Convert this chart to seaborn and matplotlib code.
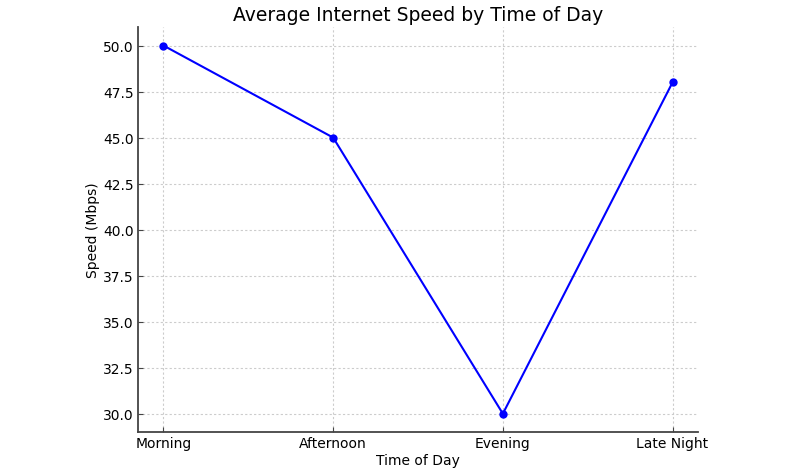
import pandas as pd
import seaborn as sns
import matplotlib.pyplot as plt

times = ['Morning', 'Afternoon', 'Evening', 'Late Night']
speeds = [50, 45, 30, 48]

df = pd.DataFrame({'time': times, 'speed': speeds})

fig = plt.figure(figsize=(7.95, 4.77), dpi=100)
ax = fig.add_axes([0.1736, 0.092, 0.7044, 0.849])
sns.lineplot(x='time', y='speed', data=df, color='blue', marker='o',
             markersize=6, markeredgewidth=0, linewidth=1.5, sort=False, ax=ax)

ax.set_title("Average Internet Speed by Time of Day", fontsize=13.5, pad=5)
ax.set_xlabel("Time of Day", fontsize=10, labelpad=2)
ax.set_ylabel("Speed (Mbps)", fontsize=10, labelpad=2)
ax.tick_params(direction='in', labelsize=10, color='#444444', pad=3)
ax.grid(True, linestyle=(0, (2, 2)), color='#cccccc', linewidth=0.8)
ax.spines['top'].set_visible(False)
ax.spines['right'].set_visible(False)
ax.spines['left'].set_color('#444444')
ax.spines['bottom'].set_color('#444444')
ax.spines['left'].set_linewidth(1.3)
ax.spines['bottom'].set_linewidth(1.3)

fig.savefig('out.png', dpi=100)
